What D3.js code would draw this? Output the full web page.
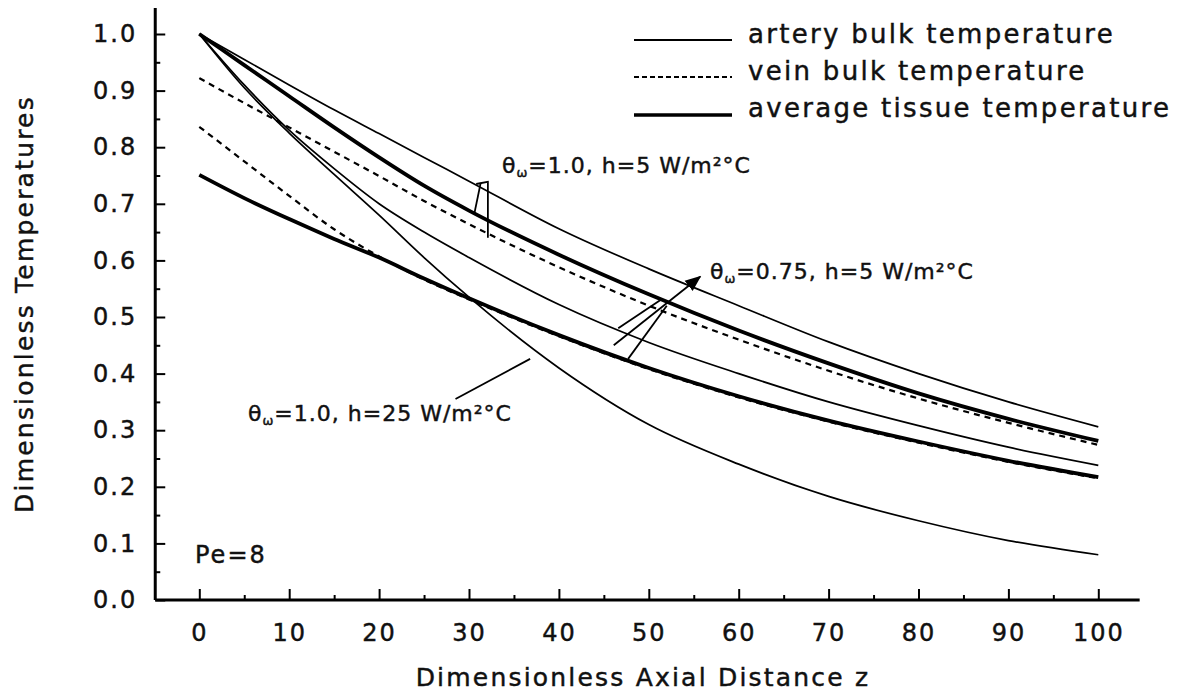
<!DOCTYPE html>
<html>
<head>
<meta charset="utf-8">
<script src="https://cdn.jsdelivr.net/npm/d3@7"></script>
<style>
body{margin:0;background:#fff}
svg{display:block}
text{font-family:"DejaVu Sans",sans-serif;fill:#111;stroke:#111;stroke-width:0.45}
</style>
</head>
<body>
<svg class="chart" width="1184" height="693"></svg>
<script>
// axial distance z where curves were read
const zVals = [0,5,10,15,20,25,30,40,50,60,70,80,90,100];

// theta_w = 1.0, h = 5 W/m2C
const artery_w1_h5 = [1.0,0.955,0.91,0.866,0.824,0.782,0.74,0.656,0.585,0.52,0.456,0.40,0.35,0.306];
const vein_w1_h5   = [0.922,0.878,0.835,0.792,0.749,0.705,0.664,0.588,0.52,0.46,0.405,0.356,0.313,0.274];
const tissue_w1_h5 = [1.0,0.945,0.89,0.835,0.782,0.732,0.688,0.61,0.54,0.476,0.418,0.365,0.32,0.281];
// theta_w = 0.75, h = 5 W/m2C
const artery_w075_h5 = [1.0,0.91,0.83,0.762,0.70,0.65,0.605,0.522,0.455,0.40,0.35,0.308,0.27,0.238];
const vein_w075_h5   = [0.836,0.775,0.714,0.655,0.607,0.566,0.531,0.466,0.408,0.358,0.315,0.278,0.244,0.215];
const tissue_w075_h5 = [0.751,0.71,0.673,0.638,0.605,0.568,0.533,0.468,0.41,0.36,0.317,0.28,0.246,0.217];
// theta_w = 1.0, h = 25 W/m2C
const artery_w1_h25 = [1.0,0.905,0.825,0.752,0.68,0.605,0.535,0.41,0.31,0.24,0.183,0.14,0.105,0.08];

const xTicks = [0,10,20,30,40,50,60,70,80,90,100];
const yTicks = [0,0.1,0.2,0.3,0.4,0.5,0.6,0.7,0.8,0.9,1.0];
const legendLabels = ["artery bulk temperature","vein bulk temperature","average tissue temperature"];

const svg = d3.select(".chart");
const x = d3.scaleLinear().domain([0,100]).range([199.3,1098.3]);
const y = d3.scaleLinear().domain([0,1]).range([600,34]);

// axes lines
svg.append("line")
    .attr("x1",x(-4.9)).attr("x2",x(104.6))
    .attr("y1",y(0)).attr("y2",y(0))
    .attr("stroke","#000").attr("stroke-width",3)
svg.append("line")
    .attr("x1",x(-4.9)).attr("x2",x(-4.9))
    .attr("y1",y(0)).attr("y2",y(1.046))
    .attr("stroke","#000").attr("stroke-width",3)

// y axis ticks
const gy = svg.append("g").attr("transform",`translate(${x(-4.9)},0)`)
gy.call(d3.axisLeft(y).tickValues(yTicks).tickFormat(d3.format(".1f"))
    .tickSizeInner(-10).tickSizeOuter(0).tickPadding(18))
gy.append("g").call(d3.axisLeft(y).tickValues(d3.range(0.05,1,0.1)).tickFormat("")
    .tickSizeInner(-5).tickSizeOuter(0))
gy.selectAll(".domain").remove()
gy.selectAll("line").attr("stroke","#000").attr("stroke-width",2)
gy.selectAll("text").attr("font-size",24).attr("letter-spacing",2)
    .style("font-family","DejaVu Sans").attr("fill","#111")

// x axis ticks
const gx = svg.append("g").attr("transform",`translate(0,${y(0)})`)
gx.call(d3.axisBottom(x).tickValues(xTicks)
    .tickSizeInner(-11).tickSizeOuter(0).tickPadding(24))
gx.append("g").call(d3.axisBottom(x).tickValues(d3.range(5,100,10)).tickFormat("")
    .tickSizeInner(-5).tickSizeOuter(0))
gx.selectAll(".domain").remove()
gx.selectAll("line").attr("stroke","#000").attr("stroke-width",2)
gx.selectAll("text").attr("font-size",24).attr("letter-spacing",2)
    .style("font-family","DejaVu Sans").attr("fill","#111")

// axis titles
svg.append("text")
    .attr("x",643).attr("y",686)
    .attr("text-anchor","middle")
    .attr("font-size",25).attr("letter-spacing",2.2)
    .text("Dimensionless Axial Distance  z")
svg.append("text")
    .attr("transform","translate(33,304) rotate(-90)")
    .attr("text-anchor","middle")
    .attr("font-size",25).attr("letter-spacing",2.2)
    .text("Dimensionless Temperatures")

// curves
const line = d3.line()
    .x((d,i)=>x(zVals[i]))
    .y(d=>y(d))
    .curve(d3.curveMonotoneX)

const thin = [artery_w1_h5, artery_w075_h5, artery_w1_h25]
const dashed = [vein_w1_h5, vein_w075_h5]
const thick = [tissue_w1_h5, tissue_w075_h5]

svg.append("g").selectAll("path").data(thin).enter().append("path")
    .attr("d",line).attr("fill","none").attr("stroke","#000").attr("stroke-width",1.7)
svg.append("g").selectAll("path").data(dashed).enter().append("path")
    .attr("d",line).attr("fill","none").attr("stroke","#000").attr("stroke-width",2.2)
    .attr("stroke-dasharray","6,5")
svg.append("g").selectAll("path").data(thick).enter().append("path")
    .attr("d",line).attr("fill","none").attr("stroke","#000").attr("stroke-width",3.8)

// legend
const legendRows = [
    {w:1.8, dash:null, ly:40, ty:43},
    {w:2.0, dash:"5,3", ly:77, ty:80},
    {w:3.6, dash:null, ly:115, ty:117}
]
legendLabels.forEach((lab,i)=>{
    const r = legendRows[i]
    svg.append("line")
        .attr("x1",634).attr("x2",732).attr("y1",r.ly).attr("y2",r.ly)
        .attr("stroke","#000").attr("stroke-width",r.w)
        .attr("stroke-dasharray",r.dash)
    svg.append("text")
        .attr("x",748).attr("y",r.ty)
        .attr("font-size",26).attr("letter-spacing",2.3)
        .text(lab)
})

// annotation labels
function thetaLabel(px,py,rest){
    const t = svg.append("text").attr("x",px).attr("y",py)
        .attr("font-size",22).attr("letter-spacing",1)
    t.append("tspan").text("θ")
    t.append("tspan").attr("font-size",13).attr("dy",4).text("ω")
    t.append("tspan").attr("dy",-4).text(rest)
}
thetaLabel(502,173,"=1.0, h=5 W/m²°C")
thetaLabel(710,279,"=0.75, h=5 W/m²°C")
thetaLabel(248,421,"=1.0, h=25 W/m²°C")

svg.append("text").attr("x",195).attr("y",563)
    .attr("font-size",24).attr("letter-spacing",2).text("Pe=8")

// leader lines (data units)
const leaders = [
    [[30.8,0.735],[32.2,0.739]],
    [[31.3,0.737],[30.6,0.683]],
    [[32.1,0.738],[32.1,0.64]],
    [[46.6,0.48],[51.3,0.53]],
    [[47.7,0.426],[52.0,0.52]],
    [[28.5,0.355],[36.8,0.426]]
]
svg.append("g").selectAll("line").data(leaders).enter().append("line")
    .attr("x1",d=>x(d[0][0])).attr("y1",d=>y(d[0][1]))
    .attr("x2",d=>x(d[1][0])).attr("y2",d=>y(d[1][1]))
    .attr("stroke","#000").attr("stroke-width",1.8)

svg.append("defs").append("marker")
    .attr("id","arr").attr("viewBox","0 0 10 10")
    .attr("refX",9).attr("refY",5)
    .attr("markerWidth",9).attr("markerHeight",9)
    .attr("orient","auto")
    .append("path").attr("d","M0,1 L10,5 L0,9 z").attr("fill","#000")
svg.append("line")
    .attr("x1",x(46.1)).attr("y1",y(0.45))
    .attr("x2",x(55.7)).attr("y2",y(0.571))
    .attr("stroke","#000").attr("stroke-width",1.8)
    .attr("marker-end","url(#arr)")
</script>
</body>
</html>
